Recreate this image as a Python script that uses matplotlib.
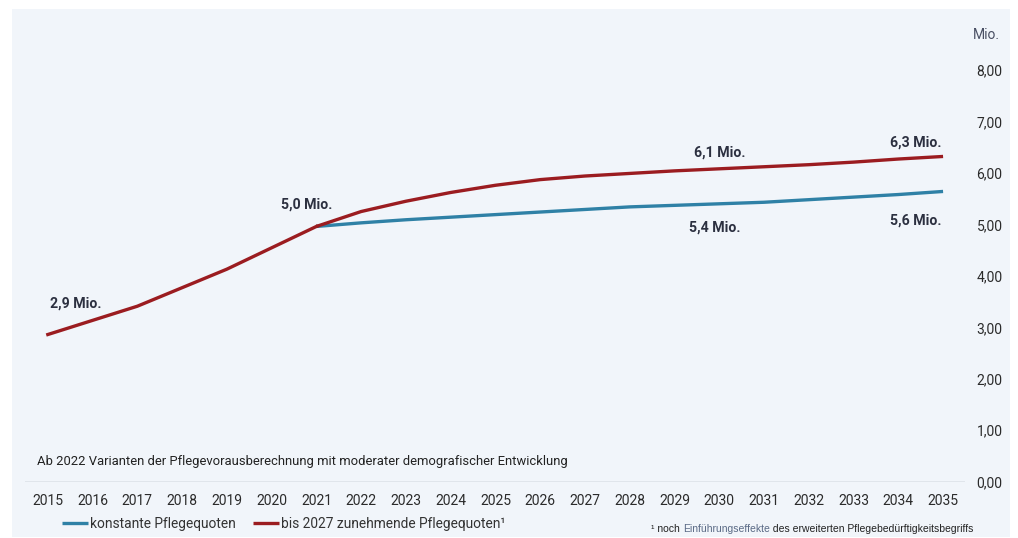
import matplotlib
matplotlib.use("Agg")
import matplotlib.pyplot as plt
from matplotlib.patches import Rectangle

# Pflegebedürftige in Deutschland (Mio.)
years_hist = [2015, 2017, 2019, 2021]
values_hist = [2.86, 3.41, 4.13, 4.96]

years_proj = [2021, 2022, 2023, 2024, 2025, 2026, 2027, 2028,
              2029, 2030, 2031, 2032, 2033, 2034, 2035]
konstant = [4.96, 5.03, 5.09, 5.14, 5.19, 5.24, 5.29, 5.34,
            5.37, 5.40, 5.43, 5.48, 5.53, 5.58, 5.64]
zunehmend = [4.96, 5.25, 5.45, 5.62, 5.76, 5.87, 5.94, 5.99,
             6.04, 6.08, 6.12, 6.16, 6.21, 6.27, 6.32]

year_ticks = list(range(2015, 2036))
y_ticks = [0, 1, 2, 3, 4, 5, 6, 7, 8]

label_konstant = "konstante Pflegequoten"
label_zunehmend = "bis 2027 zunehmende Pflegequoten\u00b9"

BLUE = "#2f81a6"
RED = "#9b1c20"
BG = "#f1f5fa"
TXT = "#2b2b2b"
LBL = "#2c3040"

plt.rcParams["font.family"] = ["Roboto", "DejaVu Sans"]

fig = plt.figure(figsize=(10.18, 5.38), dpi=100)
W, H = 1018, 538
fig.patches.append(Rectangle((12 / W, 1 - 537 / H), 998 / W, 528 / H,
                             transform=fig.transFigure, facecolor=BG,
                             edgecolor="none", zorder=-5))

ax = fig.add_axes([25 / W, 1 - 481.7 / H, 940 / W, 411.7 / H])
ax.set_facecolor("none")
for s in ax.spines.values():
    s.set_visible(False)

ax.set_xlim(2014.49, 2035.49)
ax.set_ylim(0, 8)
ax.axhline(0, color="#dde2e8", lw=1.2, zorder=1)

# red drawn over blue so the shared history stays red
l_blue, = ax.plot(years_proj, konstant, color=BLUE, lw=2.4,
                  solid_capstyle="butt", zorder=3, label=label_konstant)
ax.plot(years_hist, values_hist, color=RED, lw=2.4, zorder=4,
        solid_joinstyle="round")
l_red, = ax.plot(years_proj, zunehmend, color=RED, lw=2.4,
                 solid_capstyle="butt", zorder=4, label=label_zunehmend)

ax.set_xticks(year_ticks)
ax.set_xticklabels([str(y) for y in year_ticks])
ax.tick_params(axis="x", length=0, pad=9, labelsize=10, labelcolor=TXT)

ax.yaxis.tick_right()
ax.set_yticks(y_ticks)
ax.set_yticklabels([f"{v:.2f}".replace(".", ",") for v in y_ticks])
ax.tick_params(axis="y", length=0, pad=27, labelsize=10, labelcolor=TXT)
for lab in ax.get_yticklabels():
    lab.set_horizontalalignment("right")

fig.text(1000 / W, 1 - 35 / H, "Mio.", ha="right", va="center",
         fontsize=10, color="#4a5064")


def fmt(v):
    return f"{v:.1f}".replace(".", ",") + " Mio."


def note(x, y, dx, dy, ha="center"):
    ax.annotate(fmt(y), (x, y), xytext=(dx, dy), textcoords="offset points",
                ha=ha, va="center", fontsize=10.2, fontweight="bold", color=LBL)


note(years_hist[0], values_hist[0], 20, 22)
note(years_hist[-1], values_hist[-1], -7, 16)
note(years_proj[9], zunehmend[9], 0, 12)
note(years_proj[9], konstant[9], -3, -17)
note(years_proj[-1], zunehmend[-1], -1, 10, ha="right")
note(years_proj[-1], konstant[-1], -1, -21, ha="right")

fig.text(37 / W, 1 - 462 / H,
         "Ab 2022 Varianten der Pflegevorausberechnung mit moderater demografischer Entwicklung",
         ha="left", va="center", fontsize=9.35, color="#222222")

fig.legend(handles=[l_blue, l_red], loc="center left",
           bbox_to_anchor=(62 / W, 1 - 524 / H), ncol=2, frameon=False,
           fontsize=9.9, handlelength=1.9, handletextpad=0.1,
           columnspacing=1.3, borderpad=0, borderaxespad=0,
           labelcolor="#333333")

# footnote
fx, fy = 651 / W, 1 - 529 / H
fn_font = ["Liberation Sans", "DejaVu Sans"]
t1 = fig.text(fx, fy, "\u00b9 noch ", ha="left", va="center", fontsize=7.5,
              color="#222222", family=fn_font)
fig.canvas.draw()
r = fig.canvas.get_renderer()
bb = t1.get_window_extent(r)
t2 = fig.text(bb.x1 / W, fy, "Einführungseffekte", ha="left", va="center",
              fontsize=7.5, color="#5a6a85", family=fn_font)
bb2 = t2.get_window_extent(r)
fig.text(bb2.x1 / W, fy, " des erweiterten Pflegebedürftigkeitsbegriffs",
         ha="left", va="center", fontsize=7.5, color="#222222", family=fn_font)

fig.savefig("out.png", dpi=100, facecolor="white")
